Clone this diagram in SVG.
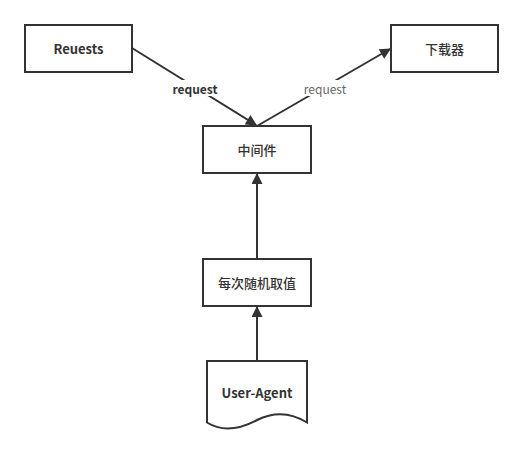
<svg xmlns="http://www.w3.org/2000/svg" width="526" height="456" viewBox="0 0 526 456">
<style>
.box{fill:#fff;stroke:#333;stroke-width:2}
.t{font-family:"Noto Sans CJK SC","Microsoft YaHei",sans-serif;font-size:13px;fill:#333;text-anchor:middle;dominant-baseline:central}
.b{font-weight:bold}
.e{fill:none;stroke:#333;stroke-width:2}
.lbl{font-family:"Noto Sans CJK SC",sans-serif;font-size:12px;text-anchor:middle;dominant-baseline:central}
</style>
<defs>
<marker id="arr" viewBox="0 0 10 10" refX="9" refY="5" markerWidth="6" markerHeight="5.5" orient="auto" markerUnits="strokeWidth">
<path d="M0,0 L10,5 L0,10 Z" fill="#333"/>
</marker>
</defs>
<rect width="526" height="456" fill="#fff"/>
<g id="connectors">
<line class="e" x1="132" y1="48" x2="256" y2="125" marker-end="url(#arr)"/>
<line class="e" x1="257" y1="126" x2="390" y2="49" marker-end="url(#arr)"/>
<line class="e" x1="257" y1="259" x2="257" y2="174" marker-end="url(#arr)"/>
<line class="e" x1="257" y1="361" x2="257" y2="307" marker-end="url(#arr)"/>
<rect x="168" y="80" width="54" height="16" fill="#fff"/>
<text class="lbl b" x="195" y="88" fill="#333">request</text>
<rect x="298" y="80" width="54" height="16" fill="#fff"/>
<text class="lbl" x="325" y="88" fill="#666">request</text>
</g>
<g id="reuests">
<rect class="box" x="25" y="25" width="107" height="47"/>
<text class="t b" x="78.5" y="48.5">Reuests</text>
</g>
<g id="downloader">
<rect class="box" x="391" y="25" width="107" height="47"/>
<text class="t" x="444.5" y="48.5" font-weight="500">下载器</text>
</g>
<g id="middleware">
<rect class="box" x="203" y="126" width="108" height="47"/>
<text class="t" x="257" y="149.5" font-weight="500">中间件</text>
</g>
<g id="random">
<rect class="box" x="203" y="259" width="108" height="47"/>
<text class="t" x="257" y="282.5" font-weight="500">每次随机取值</text>
</g>
<g id="useragent">
<path class="box" d="M207,361 H307 V422.5 C292,413 275,411 257,420 C240,429 222,432 207,422.5 Z"/>
<text class="t b" x="257" y="392" font-size="14">User-Agent</text>
</g>
</svg>
